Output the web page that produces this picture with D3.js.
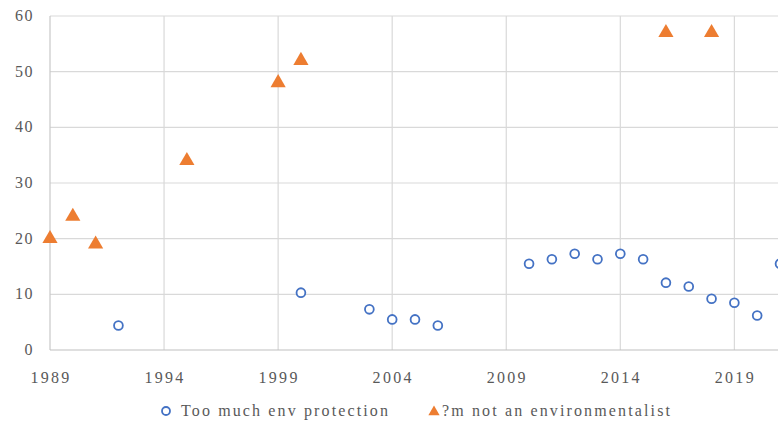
<!DOCTYPE html>
<html><head><meta charset="utf-8">
<script src="https://cdn.jsdelivr.net/npm/d3@7"></script>
<style>
body{margin:0;background:#fff;}
svg{display:block;}
svg text{font-family:"Liberation Serif";fill:#595959;}
</style></head>
<body><svg id="chart" width="778" height="423"></svg>
<script>
const yearsTooMuch = [1992,2000,2003,2004,2005,2006,2010,2011,2012,2013,2014,2015,2016,2017,2018,2019,2020,2021];
const valuesTooMuch = [4.4,10.3,7.3,5.5,5.5,4.4,15.5,16.3,17.3,16.3,17.3,16.3,12.1,11.4,9.2,8.5,6.2,15.5];
const yearsNotEnv = [1989,1990,1991,1995,1999,2000,2016,2018];
const valuesNotEnv = [20,24,19,34,48,52,57,57];
const xTicks = [1989,1994,1999,2004,2009,2014,2019];
const yTicks = [0,10,20,30,40,50,60];
const seriesNames = ["Too much env protection","?m not an environmentalist"];

const svg = d3.select("#chart");
const x = d3.scaleLinear().domain([1989,2021]).range([50,780]);
const y = d3.scaleLinear().domain([0,60]).range([350,16]);

svg.append("g").selectAll("line").data(yTicks.filter(d=>d>0)).join("line")
  .attr("x1",50).attr("x2",778).attr("y1",d=>y(d)).attr("y2",d=>y(d))
  .attr("stroke","#d9d9d9").attr("stroke-width",1.2);
svg.append("g").selectAll("line").data(xTicks.filter(d=>d>1989)).join("line")
  .attr("x1",d=>x(d)).attr("x2",d=>x(d)).attr("y1",y(60)).attr("y2",y(0))
  .attr("stroke","#d9d9d9").attr("stroke-width",1.2);
svg.append("line").attr("x1",50).attr("x2",50).attr("y1",y(60)).attr("y2",y(0)).attr("stroke","#c8c8c8").attr("stroke-width",1.2);
svg.append("line").attr("x1",50).attr("x2",778).attr("y1",y(0)).attr("y2",y(0)).attr("stroke","#c0c0c0").attr("stroke-width",1.2);

svg.append("g").selectAll("text").data(yTicks).join("text")
  .attr("x",34).attr("y",d=>y(d)+5).attr("text-anchor","end")
  .attr("font-size",16).attr("letter-spacing",1.5).text(d=>d);
svg.append("g").selectAll("text").data(xTicks).join("text")
  .attr("x",d=>x(d)+1).attr("y",383).attr("text-anchor","middle")
  .attr("font-size",16).attr("letter-spacing",2.3).text(d=>d);

svg.append("g").selectAll("circle").data(yearsTooMuch.map((d,i)=>[d,valuesTooMuch[i]])).join("circle")
  .attr("cx",d=>x(d[0])).attr("cy",d=>y(d[1])).attr("r",4.4)
  .attr("fill","#fff").attr("stroke","#4472c4").attr("stroke-width",1.8);
const tri = d3.symbol().type(d3.symbolTriangle).size(100);
svg.append("g").selectAll("path").data(yearsNotEnv.map((d,i)=>[d,valuesNotEnv[i]])).join("path")
  .attr("d",tri).attr("transform",d=>`translate(${x(d[0])},${y(d[1])})`)
  .attr("fill","#ed7d31");

const lg = svg.append("g");
lg.append("circle").attr("cx",166).attr("cy",411).attr("r",4).attr("fill","#fff").attr("stroke","#4472c4").attr("stroke-width",1.8);
lg.append("text").attr("x",181).attr("y",416).attr("font-size",16)
  .attr("textLength",207).attr("lengthAdjust","spacing").text(seriesNames[0]);
lg.append("path").attr("d",d3.symbol().type(d3.symbolTriangle).size(55)).attr("transform","translate(434,412)").attr("fill","#ed7d31");
lg.append("text").attr("x",442).attr("y",416).attr("font-size",16)
  .attr("textLength",228).attr("lengthAdjust","spacing").text(seriesNames[1]);
</script></body></html>
